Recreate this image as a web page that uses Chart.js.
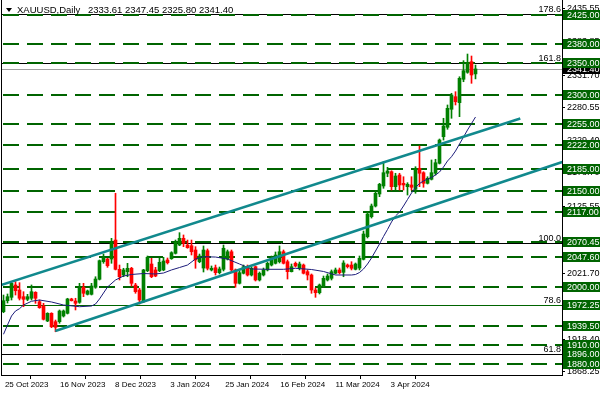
<!DOCTYPE html>
<html>
<head>
<meta charset="utf-8">
<title>XAUUSD Daily</title>
<script src="https://cdn.jsdelivr.net/npm/chart.js@4.4.1/dist/chart.umd.min.js"></script>
<style>
  html, body { margin: 0; padding: 0; background: #fff; }
  #wrap { width: 607px; height: 396px; }
</style>
</head>
<body>
<div id="wrap"><canvas id="chart" width="607" height="396"></canvas></div>
<script>
// time axis
const dateLabels = ["25 Oct 2023", "16 Nov 2023", "8 Dec 2023", "3 Jan 2024", "25 Jan 2024", "16 Feb 2024", "11 Mar 2024", "3 Apr 2024"];
const dateTickStart = -0.15; // bar index under the first date mark
const dateTickStep = 13.77;  // bars between date marks

// daily candles
const open = [1961.7, 1978.9, 1984.2, 2003.5, 1995.6, 1985.2, 1981.1, 1982.7, 1992.0, 1977.3,
  1970.6, 1947.2, 1959.2, 1946.1, 1946.1, 1955.0, 1959.2, 1981.6, 1978.4, 1976.4,
  1999.9, 1988.9, 1988.9, 1999.9, 2012.4, 2039.9, 2044.1, 2044.1, 2073.8, 2028.0,
  2019.1, 2024.3, 2029.6, 2003.5, 1995.6, 1977.3, 2025.8, 2036.3, 2027.0, 2025.8,
  2027.0, 2042.6, 2044.6, 2053.0, 2066.0, 2076.5, 2066.0, 2064.9, 2058.2, 2039.9,
  2030.0, 2057.1, 2027.0, 2030.5, 2022.7, 2028.0, 2044.1, 2055.5, 2027.0, 2006.1,
  2021.8, 2032.1, 2019.1, 2032.1, 2011.3, 2019.1, 2027.0, 2034.7, 2037.4, 2039.9,
  2055.5, 2039.9, 2024.3, 2037.4, 2030.0, 2034.7, 2024.3, 2019.1, 1995.6, 1991.4,
  2001.9, 2011.3, 2013.9, 2021.8, 2027.0, 2023.3, 2034.7, 2034.7, 2028.0, 2030.0,
  2043.6, 2079.0, 2110.3, 2127.0, 2145.8, 2158.3, 2178.2, 2180.7, 2157.2, 2175.5,
  2162.5, 2157.2, 2159.9, 2153.1, 2186.0, 2179.1, 2162.5, 2168.8, 2178.2, 2193.8,
  2235.4, 2250.1, 2278.3, 2298.0, 2288.6, 2325.2, 2336.1, 2352.7, 2333.61];
const high = [1987.8, 1989.4, 2008.6, 2008.6, 2007.1, 1993.0, 1988.9, 2003.5, 1993.0, 1980.0,
  1974.8, 1960.1, 1960.1, 1948.7, 1964.4, 1964.4, 1982.7, 1982.7, 1982.7, 2006.1,
  2006.1, 1995.6, 2006.1, 2016.4, 2042.6, 2051.9, 2045.2, 2076.5, 2146.9, 2034.7,
  2029.6, 2037.4, 2031.1, 2006.1, 1998.3, 2028.0, 2048.8, 2045.2, 2031.1, 2045.2,
  2046.8, 2045.7, 2055.5, 2073.8, 2085.3, 2081.7, 2073.8, 2073.8, 2063.4, 2051.9,
  2064.5, 2059.8, 2033.2, 2034.7, 2031.6, 2066.0, 2058.2, 2058.2, 2028.5, 2025.4,
  2034.7, 2034.7, 2031.6, 2033.2, 2023.8, 2030.0, 2039.4, 2048.8, 2055.1, 2064.5,
  2058.2, 2042.6, 2036.3, 2039.4, 2039.4, 2036.3, 2027.0, 2020.7, 1998.8, 2005.0,
  2017.5, 2020.7, 2027.0, 2030.0, 2030.0, 2041.5, 2036.3, 2039.9, 2037.9, 2048.8,
  2087.9, 2117.6, 2130.1, 2150.5, 2162.5, 2196.3, 2187.5, 2182.2, 2178.2, 2178.2,
  2172.8, 2163.5, 2172.8, 2188.5, 2220.9, 2180.7, 2172.8, 2199.0, 2200.1, 2231.8,
  2264.2, 2285.0, 2303.3, 2305.8, 2329.2, 2354.3, 2364.7, 2361.6, 2347.45];
const low = [1960.1, 1975.3, 1980.0, 1987.8, 1980.0, 1969.5, 1978.9, 1980.0, 1974.8, 1967.0,
  1948.7, 1946.1, 1936.7, 1930.4, 1943.6, 1953.4, 1958.1, 1978.4, 1964.4, 1974.8,
  1985.2, 1987.8, 1987.8, 1998.3, 2011.3, 2037.4, 2031.1, 2037.4, 2027.0, 2011.3,
  2016.4, 2016.4, 2001.9, 1990.5, 1973.7, 1975.8, 2024.3, 2014.9, 2016.4, 2024.3,
  2025.8, 2036.3, 2043.6, 2051.9, 2064.9, 2063.4, 2060.9, 2050.4, 2029.6, 2038.3,
  2023.8, 2027.0, 2025.4, 2019.1, 2020.7, 2025.4, 2042.6, 2025.4, 1999.9, 2005.0,
  2020.7, 2017.5, 2017.5, 2009.7, 2009.7, 2017.5, 2025.4, 2033.2, 2036.3, 2037.9,
  2036.3, 2012.8, 2023.8, 2031.6, 2027.0, 2020.7, 2011.3, 1990.5, 1984.2, 1989.4,
  2000.3, 2009.7, 2011.3, 2020.7, 2020.7, 2016.4, 2030.0, 2027.0, 2027.0, 2027.0,
  2042.6, 2077.0, 2108.2, 2125.5, 2141.6, 2154.7, 2172.8, 2152.0, 2152.0, 2152.0,
  2152.0, 2144.2, 2152.0, 2146.9, 2157.2, 2156.3, 2161.4, 2167.7, 2175.5, 2192.7,
  2230.2, 2247.0, 2264.2, 2285.0, 2266.7, 2321.4, 2334.6, 2318.9, 2325.80];
const close = [1978.9, 1985.2, 2006.1, 1994.5, 1982.7, 1981.1, 1985.2, 1993.0, 1982.7, 1968.0,
  1949.8, 1959.2, 1938.2, 1937.3, 1962.8, 1962.8, 1981.6, 1978.9, 1974.8, 1998.3,
  1990.5, 1994.1, 2001.9, 2012.8, 2041.5, 2046.2, 2033.6, 2068.7, 2028.0, 2016.4,
  2027.0, 2029.6, 2006.1, 1993.0, 1980.0, 2027.0, 2046.8, 2016.4, 2017.5, 2039.0,
  2041.0, 2038.3, 2054.0, 2070.2, 2076.5, 2068.7, 2061.8, 2055.5, 2042.6, 2048.8,
  2058.2, 2029.6, 2029.6, 2022.7, 2028.5, 2060.9, 2055.5, 2027.0, 2006.1, 2022.7,
  2032.1, 2019.1, 2029.6, 2011.3, 2021.8, 2027.0, 2037.4, 2045.2, 2050.4, 2055.5,
  2037.4, 2024.3, 2032.1, 2033.2, 2036.3, 2021.8, 2019.1, 1995.6, 1991.4, 2003.5,
  2013.9, 2017.5, 2024.3, 2027.0, 2022.7, 2037.9, 2032.1, 2029.6, 2036.3, 2045.2,
  2083.2, 2114.5, 2127.0, 2146.9, 2161.0, 2179.1, 2181.8, 2157.2, 2173.9, 2159.9,
  2159.9, 2161.0, 2156.3, 2186.0, 2178.2, 2162.5, 2170.3, 2179.1, 2194.7, 2230.2,
  2252.1, 2279.8, 2300.6, 2290.1, 2326.7, 2338.6, 2351.1, 2331.9, 2341.40];

// moving average, read at these bars
const maBars = [0, 1, 2, 3, 4, 5, 7, 9, 12, 15, 19, 22, 23, 24, 26, 28, 30, 32, 35, 38,
  40, 42, 44, 46, 48, 50, 53, 56, 59, 62, 66, 70, 73, 77, 80, 83, 87, 88, 89, 90,
  91, 92, 93, 94, 95, 96, 97, 98, 99, 100, 101, 102, 103, 104, 105, 106, 107, 108, 109, 110,
  111, 112, 113, 114, 115, 116, 117, 118];
const maValues = [1926.4, 1940.9, 1955.0, 1962.8, 1966.4, 1972.2, 1978.0, 1980.0, 1976.9, 1972.2,
  1969.5, 1970.6, 1973.7, 1981.6, 2000.3, 2011.3, 2017.5, 2019.9, 2021.4, 2020.7,
  2022.2, 2027.0, 2030.8, 2034.7, 2044.1, 2047.7, 2047.2, 2044.1, 2036.3, 2028.5,
  2028.0, 2028.0, 2029.6, 2027.7, 2024.6, 2019.1, 2019.1, 2019.9, 2023.0, 2028.5,
  2036.3, 2045.7, 2056.6, 2067.6, 2079.3, 2090.3, 2102.0, 2111.4, 2117.6, 2127.0,
  2137.2, 2147.3, 2155.9, 2162.2, 2166.1, 2169.2, 2171.6, 2175.5, 2180.2, 2188.0,
  2197.4, 2204.1, 2213.0, 2224.0, 2234.9, 2245.9, 2256.0, 2266.2];

// trend channel, [bar, price] at each end
const upperChannel = [[-0.63, 2003.5], [129.2, 2263.9]];
const lowerChannel = [[12.95, 1931.5], [139.7, 2195.8]];

// horizontal levels and the price labels on the axis
const levels = [2425.00, 2380.00, 2350.00, 2300.00, 2255.00, 2222.00, 2185.00, 2150.00, 2117.00,
  2070.45, 2047.60, 2000.00, 1972.25, 1939.50, 1910.00, 1896.00, 1880.00];
const solidLevels = [1972.25];
const noLineLevels = [1896.00];
const fibLevels = [178.6, 161.8, 100.0, 78.6, 61.8];
const fibPrices = [2428.0, 2351.3, 2069.6, 1972.1, 1895.5];
const lastPrice = 2341.40;
const yTicks = [2435.55, 2383.85, 2331.70, 2280.55, 2229.40, 2178.70, 2125.55, 2073.50,
  2021.70, 1969.90, 1918.40, 1868.25];

const yMin = 1862.7, yMax = 2449.2;
const xMin = -0.625, xMax = 139.625;

const FONT = "'Liberation Sans', Arial, sans-serif";
const bull = "#008000", bear = "#ff0000";
const levelGreen = "#006400";
const teal = "#11898d";
const navy = "#1c1c7a";

const bars = open.map((_, i) => i);
const candleColor = bars.map(i => close[i] >= open[i] ? bull : bear);

const levelLines = {
  id: "levelLines",
  beforeDatasetsDraw(chart) {
    const { ctx, chartArea: a, scales: { y } } = chart;
    ctx.save();
    ctx.beginPath();
    ctx.rect(a.left, a.top, a.right - a.left, a.bottom - a.top);
    ctx.clip();

    // bid line
    let py = Math.round(y.getPixelForValue(lastPrice)) + 0.5;
    ctx.strokeStyle = "#a0a0a0";
    ctx.lineWidth = 1;
    ctx.beginPath(); ctx.moveTo(a.left, py); ctx.lineTo(a.right, py); ctx.stroke();

    // fibonacci levels
    ctx.strokeStyle = "#000";
    fibPrices.forEach(v => {
      const yy = Math.round(y.getPixelForValue(v)) + 0.5;
      ctx.beginPath(); ctx.moveTo(a.left, yy); ctx.lineTo(a.right, yy); ctx.stroke();
    });

    // green levels
    ctx.strokeStyle = levelGreen;
    levels.forEach(v => {
      if (noLineLevels.includes(v)) return;
      const solid = solidLevels.includes(v);
      const yy = Math.round(y.getPixelForValue(v)) + (solid ? 0.5 : 0);
      ctx.lineWidth = solid ? 1 : 2;
      ctx.setLineDash(solid ? [] : [16, 8]);
      ctx.lineDashOffset = -2;
      ctx.beginPath(); ctx.moveTo(a.left, yy); ctx.lineTo(a.right, yy); ctx.stroke();
    });
    ctx.setLineDash([]);

    // fib captions
    ctx.fillStyle = "#000";
    ctx.font = "9px " + FONT;
    ctx.textAlign = "right";
    ctx.textBaseline = "alphabetic";
    fibPrices.forEach((v, i) => {
      const yy = Math.round(y.getPixelForValue(v));
      ctx.fillText(fibLevels[i].toFixed(1), a.right - 1, yy - 2);
    });
    ctx.restore();
  }
};

const overlay = {
  id: "overlay",
  afterDraw(chart) {
    const { ctx, chartArea: a, scales: { y } } = chart;
    ctx.save();
    // left frame
    ctx.strokeStyle = "#000";
    ctx.lineWidth = 1;
    ctx.beginPath(); ctx.moveTo(a.left + 0.5, 0); ctx.lineTo(a.left + 0.5, a.bottom); ctx.stroke();

    // price boxes on the axis
    ctx.font = "9px " + FONT;
    ctx.textAlign = "left";
    ctx.textBaseline = "middle";
    const box = (v, bg) => {
      const yy = Math.round(y.getPixelForValue(v));
      ctx.fillStyle = bg;
      ctx.fillRect(a.right + 1, yy - 5, 37, 10);
      ctx.fillStyle = "#fff";
      ctx.fillText(v.toFixed(2), a.right + 5, yy + 0.5);
    };
    box(lastPrice, "#000");
    levels.forEach(v => box(v, levelGreen));

    // title
    ctx.fillStyle = "#000";
    ctx.beginPath();
    ctx.moveTo(6, 8); ctx.lineTo(12, 8); ctx.lineTo(9, 12); ctx.closePath(); ctx.fill();
    ctx.font = "9.5px " + FONT;
    ctx.textBaseline = "alphabetic";
    ctx.fillText("XAUUSD,Daily", 17, 13);
    ctx.fillText("2333.61 2347.45 2325.80 2341.40", 88, 13);
    ctx.restore();
  }
};

new Chart(document.getElementById("chart"), {
  type: "bar",
  data: {
    datasets: [
      {
        type: "line", label: "channel top",
        data: upperChannel.map(([x, y]) => ({ x, y })),
        borderColor: teal, borderWidth: 2.5, pointRadius: 0, order: 0
      },
      {
        type: "line", label: "channel bottom",
        data: lowerChannel.map(([x, y]) => ({ x, y })),
        borderColor: teal, borderWidth: 2.5, pointRadius: 0, order: 0
      },
      {
        type: "line", label: "MA",
        data: maBars.map((x, i) => ({ x, y: maValues[i] })),
        borderColor: navy, borderWidth: 1, pointRadius: 0, order: 1
      },
      {
        label: "body",
        data: bars.map(i => ({ x: i, y: [Math.min(open[i], close[i]), Math.max(open[i], close[i])] })),
        backgroundColor: candleColor, borderWidth: 0,
        barThickness: 3, grouped: false, minBarLength: 1, order: 2
      },
      {
        label: "wick",
        data: bars.map(i => ({ x: i, y: [low[i], high[i]] })),
        backgroundColor: candleColor, borderWidth: 0,
        barThickness: 1, grouped: false, order: 3
      }
    ]
  },
  options: {
    responsive: false,
    devicePixelRatio: 1,
    animation: false,
    layout: { padding: { left: 1, top: 0, right: 0, bottom: 0 } },
    plugins: { legend: { display: false }, tooltip: { enabled: false } },
    scales: {
      x: {
        type: "linear", min: xMin, max: xMax, offset: false,
        grid: { drawOnChartArea: false, tickLength: 4, color: "#000" },
        border: { display: true, color: "#000" },
        ticks: {
          autoSkip: false, maxRotation: 0, align: "start", labelOffset: 2, padding: 1,
          color: "#000", font: { family: FONT, size: 8 },
          callback: (v, i) => dateLabels[i]
        },
        afterBuildTicks: s => { s.ticks = dateLabels.map((_, j) => ({ value: dateTickStart + j * dateTickStep })); },
        afterFit: s => { s.height = 21; s.paddingLeft = 0; s.paddingRight = 0; }
      },
      y: {
        position: "right", min: yMin, max: yMax,
        grid: { drawOnChartArea: false, tickLength: 3, color: "#000" },
        border: { display: true, color: "#000" },
        ticks: {
          autoSkip: false, padding: 2, color: "#000", font: { family: FONT, size: 9 },
          callback: v => v.toFixed(2)
        },
        afterBuildTicks: s => { s.ticks = yTicks.map(v => ({ value: v })); },
        afterFit: s => { s.width = 45; s.paddingTop = 0; s.paddingBottom = 0; }
      }
    }
  },
  plugins: [levelLines, overlay]
});
</script>
</body>
</html>
